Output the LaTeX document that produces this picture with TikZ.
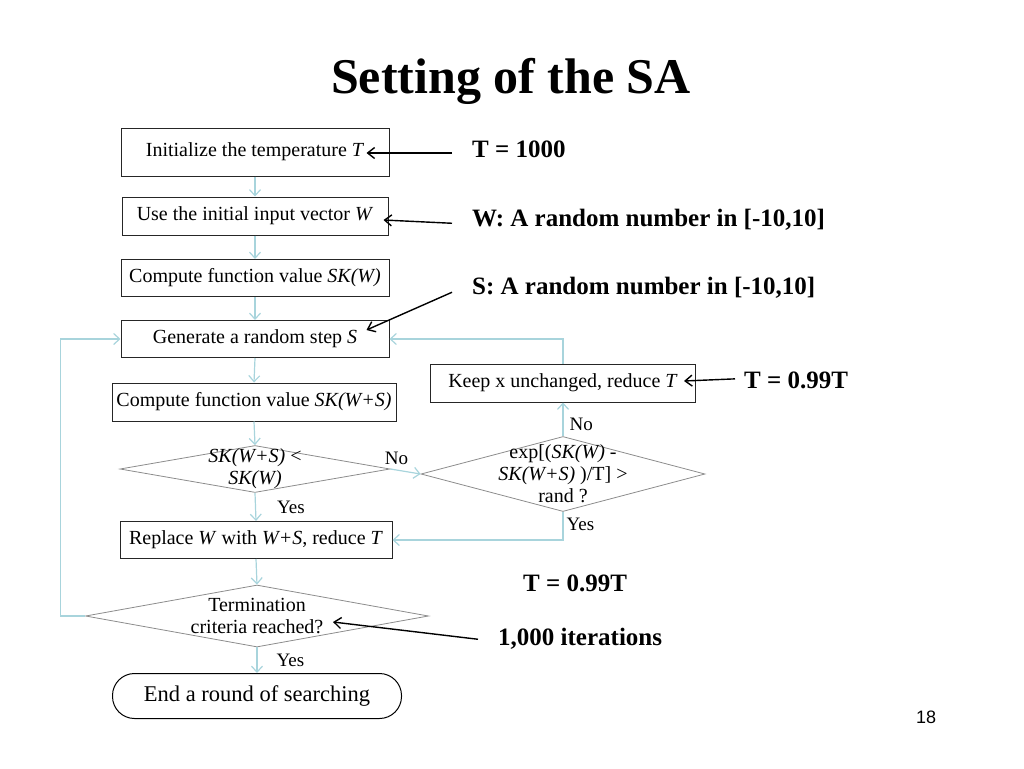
\documentclass[tikz,border=0pt]{standalone}
\usepackage{fontspec}
\setmainfont{Liberation Serif}
\newfontfamily\pagefont{Liberation Sans}
\usetikzlibrary{positioning, shapes.geometric, arrows.meta}

\definecolor{flowcol}{RGB}{168,212,220}

\tikzset{
  box/.style={draw=black!85, line width=1pt, minimum height=38pt, inner sep=0pt,
    font=\fontsize{20}{23}\selectfont},
  dec/.style={diamond, draw=black!45, line width=0.8pt, inner sep=0pt},
  dectext/.style={align=center, font=\fontsize{20}{22}\selectfont},
  flow/.style={draw=flowcol, line width=1.2pt, -{Straight Barb[length=6pt,width=11pt]}},
  note/.style={draw=black, line width=1.4pt, -{Straight Barb[length=7pt,width=11pt]}},
  lbl/.style={font=\fontsize{19}{22}\selectfont, inner sep=1pt},
  ann/.style={font=\fontsize{25}{30}\selectfont\bfseries, anchor=base west, inner sep=0pt},
}

\begin{document}
\begin{tikzpicture}[x=1pt,y=-1pt]
\useasboundingbox (0,0) rectangle (1024,768);
\node[anchor=base, font=\fontsize{50}{60}\selectfont\bfseries] (title) at (511,93) {Setting of the SA};
\node[anchor=base, font=\fontsize{18}{20}\selectfont\pagefont] (pnum) at (926,723) {18};

% main column
\node[box, minimum width=268pt, minimum height=48pt] (init) at (255,152) {Initialize the temperature \textit{T}};
\node[box, minimum width=266pt] (usew) at (255,216) {Use the initial input vector \textit{W}};
\node[box, minimum width=268pt, minimum height=37pt] (sk) at (255,278) {Compute function value \textit{SK(W)}};
\node[box, minimum width=268pt, minimum height=37pt] (gen) at (255,339) {Generate a random step \textit{S}};
\node[box, minimum width=284pt] (sks) at (254,402) {Compute function value \textit{SK(W+S)}};
\node[dec, minimum width=270pt, minimum height=47pt,
  label={[dectext]center:\textit{SK(W+S)} <\\\textit{SK(W)}}] (cmp) at (255,469) {};
\node[box, minimum width=272pt, minimum height=37pt] (repl) at (256,540) {Replace \textit{W} with \textit{W+S}, reduce \textit{T}};
\node[dec, minimum width=343pt, minimum height=62pt,
  label={[dectext]center:Termination\\criteria reached?}] (term) at (257,616) {};
\node[draw=black, line width=1pt, rounded corners=22pt, minimum width=289pt, minimum height=45pt,
  font=\fontsize{22.5}{26}\selectfont] (done) at (257,696) {End a round of searching};

% right branch
\node[box, minimum width=265pt] (keep) at (563,383) {Keep x unchanged, reduce \textit{T}};
\node[dec, minimum width=284pt, minimum height=75pt,
  label={[dectext]center:exp[(\textit{SK(W)} -\\\textit{SK(W+S)} )/T] >\\rand ?}] (acc) at (563,474) {};

% flow
\draw[flow] (init.south) -- (usew.north);
\draw[flow] (usew.south) -- (sk.north);
\draw[flow] (sk.south) -- (gen.north);
\draw[flow] (gen.south) -- (sks.north);
\draw[flow] (sks.south) -- (cmp.north);
\draw[flow] (cmp.south) -- node[lbl, right=20pt, pos=.5] {Yes} (repl.north);
\draw[flow] (repl.south) -- (term.north);
\draw[flow] (term.south) -- node[lbl, right=18pt, pos=.5] {Yes} (done.north);
\draw[flow] (cmp.east) -- node[lbl, above=4pt, pos=.2] {No} (acc.west);
\draw[flow] (acc.north) -- node[lbl, right=5pt, pos=.35] {No} (keep.south);
\draw[flow] (acc.south) |- node[lbl, right=2pt, pos=.22] {Yes} (repl.east);
\draw[flow] (keep.north) |- (gen.east);
\draw[flow] (term.west) -- ++(-25,0) |- (gen.west);

% notes
\node[ann] (tinit) at (472,157) {T = 1000};
\node[ann] (wnote) at (472,226) {W: A random number in [-10,10]};
\node[ann] (snote) at (472,294) {S: A random number in [-10,10]};
\node[ann] (tkeep) at (744,388) {T = 0.99T};
\node[ann] (trepl) at (523,591) {T = 0.99T};
\node[ann] (iter) at (498,645) {1,000 iterations};
\draw[note] (452,153) -- ([xshift=-23pt,yshift=-1pt]init.east);
\draw[note] ([xshift=-20pt,yshift=-4pt]wnote.west) -- ([xshift=-5pt,yshift=-4pt]usew.east);
\draw[note] ([xshift=-20pt,yshift=-5pt]snote.west) -- ([xshift=-23pt,yshift=9pt]gen.east);
\draw[note] ([xshift=-9pt,yshift=1pt]tkeep.west) -- ([xshift=-12pt,yshift=2pt]keep.east);
\draw[note] ([xshift=-20pt,yshift=-1pt]iter.west) -- ([xshift=76pt,yshift=-6pt]term.center);
\end{tikzpicture}
\end{document}
